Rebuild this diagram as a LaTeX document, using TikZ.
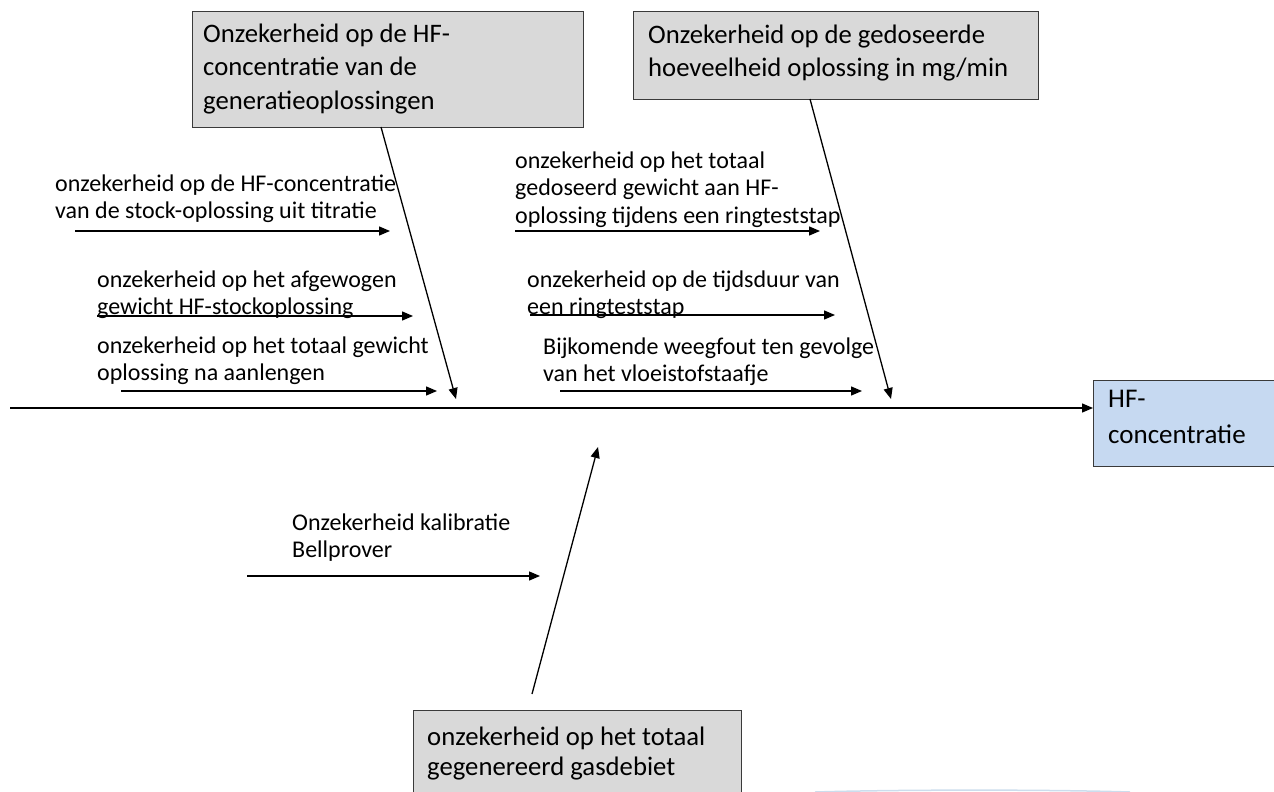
\documentclass[tikz,border=0pt]{standalone}
\usepackage{fontspec}
\setmainfont{Carlito}
\usetikzlibrary{arrows.meta,calc}
\definecolor{boxgray}{HTML}{D9D9D9}
\definecolor{boxblue}{HTML}{C6D9F1}
\definecolor{boxedge}{HTML}{3A3A3A}
\definecolor{faintblue}{HTML}{8FB4D6}
\tikzset{
  graybox/.style={draw=boxedge, line width=1.2pt, fill=boxgray, inner sep=0pt},
  bluebox/.style={draw=boxedge, line width=1.2pt, fill=boxblue, inner sep=0pt},
  boxtext/.style={font=\fontsize{26.7}{33.6}\selectfont, align=left, anchor=base west, inner sep=0pt},
  bottomtext/.style={font=\fontsize{26.7}{30}\selectfont, align=left, anchor=base west, inner sep=0pt},
  hftext/.style={font=\fontsize{27}{36}\selectfont, align=left, anchor=base west, inner sep=0pt},
  leaftext/.style={font=\fontsize{24}{27.3}\selectfont, align=left, anchor=base west, inner sep=0pt},
  arr/.style={line width=1.3pt, -{Triangle[length=11pt,width=9pt]}},
}
\begin{document}
\begin{tikzpicture}[x=1pt, y=-1pt]
\useasboundingbox (0,0) rectangle (1274,792);
% boxes
\node[graybox, minimum width=391pt, minimum height=116pt, anchor=north west] (b1) at (192,11) {};
\node[graybox, minimum width=405pt, minimum height=88pt, anchor=north west] (b2) at (633,11) {};
\node[graybox, minimum width=328pt, minimum height=110pt, anchor=north west] (b3) at (413,710) {};
\node[bluebox, minimum width=200pt, minimum height=86pt, anchor=north west] (hf) at (1093,380) {};
% box texts (anchored at the baseline of their last line)
\node[boxtext] (b1t) at (203,109.5) {Onzekerheid op de HF-\\concentratie van de\\generatieoplossingen};
\node[boxtext] (b2t) at (648,76.9) {Onzekerheid op de gedoseerde\\hoeveelheid oplossing in mg/min};
\node[bottomtext] (b3t) at (427,775.5) {onzekerheid op het totaal\\gegenereerd gasdebiet};
\node[hftext] (hft) at (1108,443) {HF-\\concentratie};
% spine
\coordinate (spine) at (10,408);
\draw[arr] (spine) -- (spine -| hf.west);
% main bones
\coordinate (d1s) at (381,127);
\coordinate (d1e) at (456,399);
\coordinate (d2s) at (810,99);
\coordinate (d2e) at (891,399);
\coordinate (d3s) at (532,694);
\coordinate (d3e) at (598,447);
\draw[arr] (d1s) -- (d1e);
\draw[arr] (d2s) -- (d2e);
\draw[arr] (d3s) -- (d3e);
% leaf texts (anchored at the baseline of their last line)
\node[leaftext] (l1) at (55,218.5) {onzekerheid op de HF-concentratie\\van de stock-oplossing uit titratie};
\node[leaftext] (l2) at (97,314.8) {onzekerheid op het afgewogen\\gewicht HF-stockoplossing};
\node[leaftext] (l3) at (97,380.8) {onzekerheid op het totaal gewicht\\oplossing na aanlengen};
\node[leaftext] (l4) at (515,223.1) {onzekerheid op het totaal\\gedoseerd gewicht aan HF-\\oplossing tijdens een ringteststap};
\node[leaftext] (l5) at (527,314.3) {onzekerheid op de tijdsduur van\\een ringteststap};
\node[leaftext] (l6) at (543,381.3) {Bijkomende weegfout ten gevolge\\van het vloeistofstaafje};
\node[leaftext] (l7) at (292,557.8) {Onzekerheid kalibratie\\Bellprover};
% leaf arrows
\coordinate (a1s) at (75,231);  \coordinate (a1e) at (390,231);
\coordinate (a2s) at (97,316);  \coordinate (a2e) at (413,316);
\coordinate (a3s) at (121,391); \coordinate (a3e) at (437,391);
\coordinate (a4s) at (515,231); \coordinate (a4e) at (820,231);
\coordinate (a5s) at (530,315); \coordinate (a5e) at (835,315);
\coordinate (a6s) at (560,391); \coordinate (a6e) at (862,391);
\coordinate (a7s) at (247,576); \coordinate (a7e) at (540,576);
\foreach \i in {1,...,7} {\draw[arr] (a\i s) -- (a\i e);}
% faint decoration at bottom right
\coordinate (fa) at (815,792);
\coordinate (fb) at (1130,792);
\draw[faintblue, line width=1.5pt, opacity=0.45] (fa) .. controls (900,789.5) and (1050,789.5) .. (fb);
\end{tikzpicture}
\end{document}
